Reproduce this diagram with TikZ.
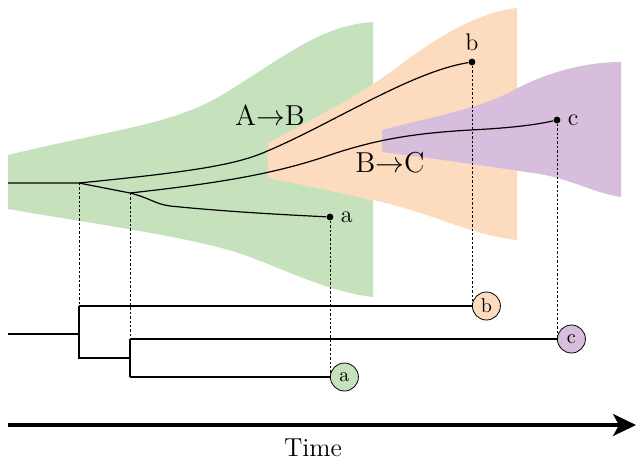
\documentclass[tikz,border=0pt]{standalone}
\usepackage{tikz}
\usetikzlibrary{arrows.meta}
\definecolor{popA}{RGB}{198,226,188}
\definecolor{popB}{RGB}{252,219,190}
\definecolor{popC}{RGB}{214,190,220}

\begin{document}
\begin{tikzpicture}[x=0.5pt,y=-0.5pt,
	sample/.style={circle,fill=black,inner sep=0pt,minimum size=3.4pt},
	leaf/.style={circle,draw,thin,inner sep=0.5pt,minimum size=14pt},
	guide/.style={thin,dash pattern=on 1.2pt off 1pt},
	branch/.style={semithick}]
	\useasboundingbox (0,0) rectangle (636,462);
	% populations
	\fill[popA] (8,155) .. controls (120,128) and (170,125) .. (222,95)
		.. controls (280,60) and (320,25) .. (373,22) -- (373,297)
		.. controls (330,292) and (290,272) .. (250,257)
		.. controls (200,238) and (100,225) .. (8,209) -- cycle;
	\fill[popB] (268,143) .. controls (330,110) and (360,95) .. (400,65)
		.. controls (440,35) and (480,12) .. (517,8) -- (517,240)
		.. controls (470,235) and (430,212) .. (373,200)
		.. controls (330,191) and (300,184) .. (268,178) -- cycle;
	\fill[popC] (382,130) .. controls (440,115) and (480,108) .. (510,92)
		.. controls (550,70) and (590,62) .. (621,62) -- (621,197)
		.. controls (590,192) and (570,178) .. (533,173)
		.. controls (480,165) and (430,158) .. (382,152) -- cycle;
	\node[font=\Large] (ab) at (270,115) {A$\rightarrow$B};
	\node[font=\Large] (bc) at (390,163) {B$\rightarrow$C};

	% gene tree inside the populations
	\coordinate (root) at (8,183);
	\coordinate (s1) at (79,183);
	\coordinate (s2) at (130,193);
	\node[sample] (bdot) at (472,62) {};
	\node[sample] (cdot) at (557,120) {};
	\node[sample] (adot) at (330,217) {};
	\node[above,font=\large] (blab) at (bdot.north) {b};
	\node[right,font=\large] (clab) at (cdot.east) {c};
	\node[right,font=\large] (alab) at (adot.east) {a};
	\draw[branch] (root) -- (s1) -- (s2);
	\draw[branch] (s1) .. controls (190,172) and (235,165) .. (265,152)
		.. controls (330,125) and (410,72) .. (bdot);
	\draw[branch] (s2) .. controls (230,182) and (280,172) .. (330,155)
		.. controls (380,138) and (420,133) .. (470,130)
		.. controls (510,128) and (535,125) .. (cdot);
	\draw[branch] (s2) .. controls (150,198) and (155,204) .. (170,206)
		.. controls (230,212) and (290,215) .. (adot);

	% cladogram
	\coordinate (troot) at (8,334);
	\coordinate (n1) at (79,334);
	\coordinate (n2) at (130,358);
	\node[leaf,fill=popB,anchor=west] (bleaf) at (bdot |- 0,306) {b};
	\node[leaf,fill=popC,anchor=west] (cleaf) at (cdot |- 0,339) {c};
	\node[leaf,fill=popA,anchor=west] (aleaf) at (adot |- 0,377) {a};
	\draw[branch] (troot) -- (n1);
	\draw[branch] (n1 |- bleaf) -- (n1 |- n2) -- (n2);
	\draw[branch] (n1 |- bleaf) -- (bleaf.west);
	\draw[branch] (n2 |- cleaf) -- (n2 |- aleaf);
	\draw[branch] (n2 |- cleaf) -- (cleaf.west);
	\draw[branch] (n2 |- aleaf) -- (aleaf.west);

	% dotted guides
	\draw[guide] (s1) -- (n1);
	\draw[guide] (s2) -- (n2);
	\draw[guide] (bdot) -- (bleaf.west);
	\draw[guide] (cdot) -- (cleaf.west);
	\draw[guide] (adot) -- (aleaf.west);

	% time axis
	\coordinate (t0) at (8,425);
	\coordinate (t1) at (636,425);
	\draw[line width=1.6pt,-{Stealth[length=11.5pt,width=11pt,inset=3pt]}] (t0) -- (t1);
	\node[font=\fontsize{13pt}{15pt}\selectfont] (time) at (313,448) {Time};
\end{tikzpicture}
\end{document}
